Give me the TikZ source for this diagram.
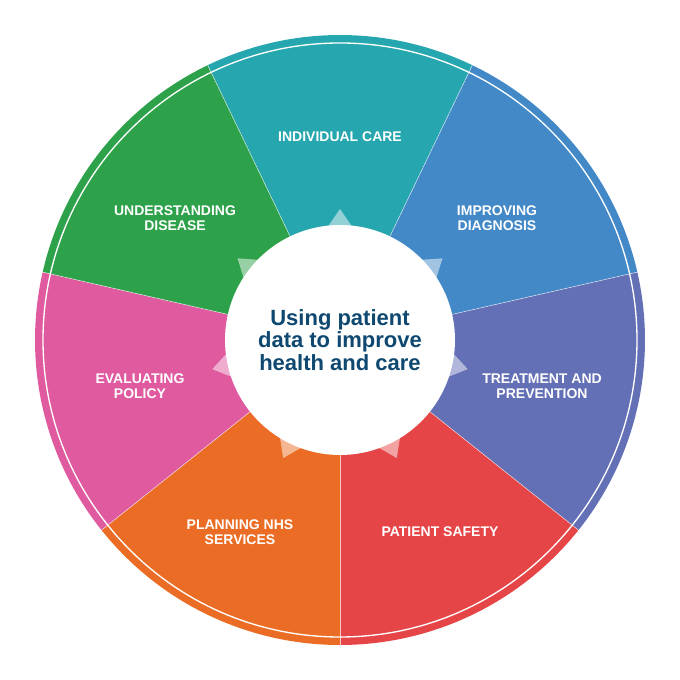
\documentclass[tikz,border=0pt]{standalone}
\usepackage{fontspec}
\setmainfont{Liberation Sans}
\usepackage{tikz}

\definecolor{careteal}{HTML}{26A6AE}
\definecolor{diagblue}{HTML}{4389C8}
\definecolor{treatpurple}{HTML}{6370B5}
\definecolor{safetyred}{HTML}{E64548}
\definecolor{planorange}{HTML}{EB6D25}
\definecolor{policypink}{HTML}{E05AA0}
\definecolor{diseasegreen}{HTML}{2EA24A}
\definecolor{hubblue}{HTML}{0F4870}

\tikzset{
  seglabel/.style={text=white,font=\bfseries\fontsize{10.5}{11.5}\selectfont,align=center},
  hublabel/.style={text=hubblue,font=\bfseries\fontsize{16.5}{17}\selectfont,align=center}
}

\begin{document}
\begin{tikzpicture}[x=0.75pt,y=0.75pt]
\useasboundingbox (-340,-340) rectangle (340,340);

% sectors
\foreach \mid/\col in {90/careteal,38.57/diagblue,-12.86/treatpurple,-64.29/safetyred,-115.71/planorange,-167.14/policypink,141.43/diseasegreen}
  \fill[\col] (0,0) -- (\mid+25.71:305) arc[start angle=\mid+25.71,end angle=\mid-25.71,radius=305] -- cycle;

% thin white edges
\foreach \a in {64.29,12.86,-38.57,-90,-141.43,167.14,115.71}
  \draw[white,line width=0.4pt,opacity=0.7] (0,0) -- (\a:305);
\draw[white,line width=1pt] (0,0) circle[radius=297];

% star points
\foreach \mid in {90,38.57,-12.86,-64.29,-115.71,-167.14,141.43}
  \fill[white,opacity=0.5] (\mid+7:112) -- (\mid:131) -- (\mid-7:112) -- cycle;

\fill[white] (0,0) circle[radius=115];

\node[hublabel] (hub) at (0,0) {Using patient\\data to improve\\health and care};
\node[seglabel] (care) at (0,203) {INDIVIDUAL CARE};
\node[seglabel] (diagnosis) at (157,122) {IMPROVING\\DIAGNOSIS};
\node[seglabel] (treatment) at (202,-46) {TREATMENT AND\\PREVENTION};
\node[seglabel] (safety) at (100,-192) {PATIENT SAFETY};
\node[seglabel] (planning) at (-100,-192) {PLANNING NHS\\SERVICES};
\node[seglabel] (policy) at (-200,-46) {EVALUATING\\POLICY};
\node[seglabel] (disease) at (-165,122) {UNDERSTANDING\\DISEASE};
\end{tikzpicture}
\end{document}
